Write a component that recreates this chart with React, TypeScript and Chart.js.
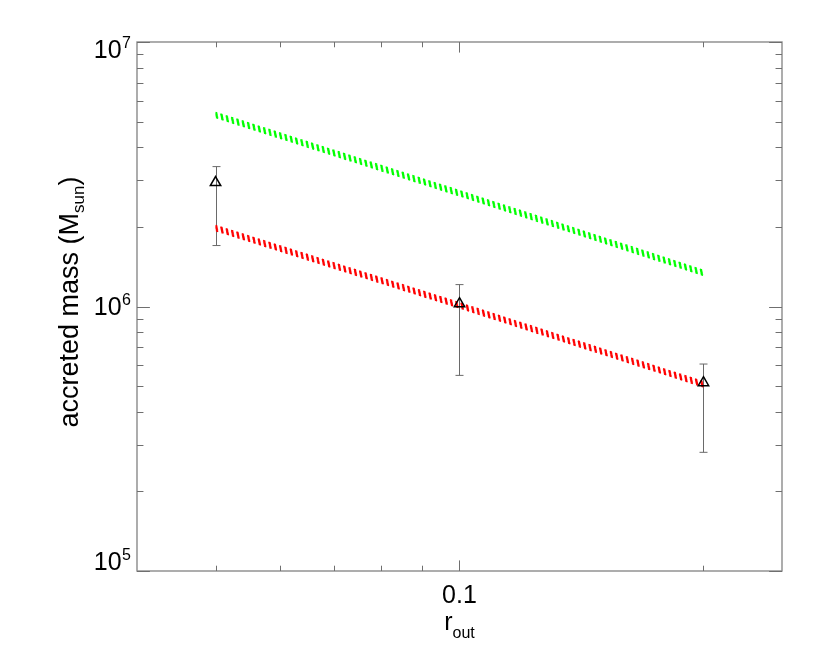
import React, { useEffect, useRef } from "react";
import { Chart, registerables } from "chart.js";

Chart.register(...registerables);

// ---- data ----
const radii = [0.05, 0.1, 0.2];
const accretedMass = [2.94e6, 1.025e6, 5.15e5];
const massErrLow = [1.7e6, 5.49e5, 2.81e5];
const massErrHigh = [3.38e6, 1.21e6, 6.06e5];
const greenModel = [5.3e6, 2.68e6, 1.34e6];
const redModel = [1.98e6, 1.01e6, 5.08e5];

// ---- ticks ----
const xMajorTicks = [0.1];
const xTickLabels = ["0.1"];
const xMinorTicks = [0.05, 0.06, 0.07, 0.08, 0.09, 0.2];
const yMajorTicks = [1e5, 1e6, 1e7];
const yTickExponents = ["5", "6", "7"];
const yMinorTicks = [
  2e5, 3e5, 4e5, 5e5, 6e5, 7e5, 8e5, 9e5,
  2e6, 3e6, 4e6, 5e6, 6e6, 7e6, 8e6, 9e6,
];

const FONT = '"Liberation Sans", Arial, Helvetica, sans-serif';
const AXIS_COLOR = "#8a8a8a";
const TICK_COLOR = "#6f6f6f";

const idlPlugin = {
  id: "idlPlugin",
  beforeDatasetsDraw(chart: any) {
    const ctx = chart.ctx;
    const xs = chart.scales.x;
    const ys = chart.scales.y;
    ctx.save();
    ctx.strokeStyle = "#6a6a6a";
    ctx.lineWidth = 1;
    for (let i = 0; i < radii.length; i++) {
      const px = Math.round(xs.getPixelForValue(radii[i])) + 0.5;
      const pTop = ys.getPixelForValue(massErrHigh[i]);
      const pBot = ys.getPixelForValue(massErrLow[i]);
      ctx.beginPath();
      ctx.moveTo(px, pTop);
      ctx.lineTo(px, pBot);
      ctx.moveTo(px - 4, pTop);
      ctx.lineTo(px + 4, pTop);
      ctx.moveTo(px - 4, pBot);
      ctx.lineTo(px + 4, pBot);
      ctx.stroke();
    }
    ctx.restore();
  },
  beforeDatasetDraw(chart: any, args: any) {
    const ds = chart.data.datasets[args.index];
    if (!ds.striped) return;
    const pts = args.meta.data;
    const ctx = chart.ctx;
    ctx.save();
    ctx.strokeStyle = ds.borderColor;
    ctx.lineWidth = 1.6;
    ctx.lineCap = "butt";
    ctx.setLineDash([2.3, 3.3]);
    for (let k = -3; k <= 2; k++) {
      const dy = k + 0.5;
      ctx.lineDashOffset = -0.22 * dy;
      ctx.beginPath();
      for (let i = 0; i < pts.length; i++) {
        const p = pts[i];
        if (i === 0) ctx.moveTo(p.x, p.y + dy);
        else ctx.lineTo(p.x, p.y + dy);
      }
      ctx.stroke();
    }
    ctx.restore();
    return false;
  },
  afterDraw(chart: any) {
    const ctx = chart.ctx;
    const xs = chart.scales.x;
    const ys = chart.scales.y;
    const a = chart.chartArea;
    const L = a.left, R = a.right, T = a.top, B = a.bottom;
    const W = R - L, H = B - T;
    const xMajLen = 0.02 * H, xMinLen = 0.01 * H;
    const yMajLen = 0.02 * W, yMinLen = 0.01 * W;

    ctx.save();
    ctx.strokeStyle = AXIS_COLOR;
    ctx.lineWidth = 1.4;
    ctx.strokeRect(L, T, W, H);

    ctx.strokeStyle = TICK_COLOR;
    ctx.lineWidth = 1;
    ctx.beginPath();
    const xTick = (v: number, len: number) => {
      const px = Math.round(xs.getPixelForValue(v)) + 0.5;
      ctx.moveTo(px, B);
      ctx.lineTo(px, B - len);
      ctx.moveTo(px, T);
      ctx.lineTo(px, T + len);
    };
    const yTick = (v: number, len: number) => {
      const py = Math.round(ys.getPixelForValue(v)) + 0.5;
      ctx.moveTo(L, py);
      ctx.lineTo(L + len, py);
      ctx.moveTo(R, py);
      ctx.lineTo(R - len, py);
    };
    xMajorTicks.forEach((v) => xTick(v, xMajLen));
    xMinorTicks.forEach((v) => xTick(v, xMinLen));
    yMajorTicks.forEach((v) => yTick(v, yMajLen));
    yMinorTicks.forEach((v) => yTick(v, yMinLen));
    ctx.stroke();

    ctx.fillStyle = "#000";
    ctx.font = `25px ${FONT}`;
    ctx.textAlign = "center";
    ctx.textBaseline = "alphabetic";
    xMajorTicks.forEach((v, i) => {
      const px = xs.getPixelForValue(v);
      ctx.fillText(xTickLabels[i], px, B + 32);
    });

    yMajorTicks.forEach((v, i) => {
      const py = ys.getPixelForValue(v);
      let base = py + 8.5;
      if (i === yMajorTicks.length - 1) base = py + 16;
      if (i === 0) base = py - 1;
      ctx.font = `16px ${FONT}`;
      const supW = ctx.measureText(yTickExponents[i]).width;
      ctx.font = `25px ${FONT}`;
      const tenW = ctx.measureText("10").width;
      const right = L - 6;
      ctx.textAlign = "left";
      ctx.fillText("10", right - supW - tenW - 0.5, base);
      ctx.font = `16px ${FONT}`;
      ctx.fillText(yTickExponents[i], right - supW, base - 10);
    });

    {
      const cx = (L + R) / 2;
      ctx.font = `25px ${FONT}`;
      const rW = ctx.measureText("r").width;
      ctx.font = `16px ${FONT}`;
      const sW = ctx.measureText("out").width;
      const x0 = cx - (rW + sW) / 2;
      ctx.textAlign = "left";
      ctx.font = `25px ${FONT}`;
      ctx.fillText("r", x0, B + 59);
      ctx.font = `16px ${FONT}`;
      ctx.fillText("out", x0 + rW, B + 67);
    }

    {
      ctx.save();
      const cy = 302;
      const bx = 78;
      ctx.translate(bx, cy);
      ctx.rotate(-Math.PI / 2);
      const main = "accreted mass (M";
      ctx.font = `27px ${FONT}`;
      const mW = ctx.measureText(main).width;
      const cW = ctx.measureText(")").width;
      ctx.font = `17px ${FONT}`;
      const sW = ctx.measureText("sun").width;
      const total = mW + sW + cW;
      let x = -total / 2;
      ctx.textAlign = "left";
      ctx.font = `27px ${FONT}`;
      ctx.fillText(main, x, 0);
      x += mW;
      ctx.font = `17px ${FONT}`;
      ctx.fillText("sun", x, 6);
      x += sW;
      ctx.font = `27px ${FONT}`;
      ctx.fillText(")", x, 0);
      ctx.restore();
    }
    ctx.restore();
  },
};

export default function App() {
  const ref = useRef<HTMLCanvasElement>(null);
  useEffect(() => {
    if (!ref.current) return;
    const chart = new Chart(ref.current, {
      type: "scatter",
      data: {
        datasets: [
          {
            label: "measured",
            data: radii.map((r, i) => ({ x: r, y: accretedMass[i] })),
            pointStyle: "triangle",
            pointRadius: 6,
            pointBorderWidth: 1.5,
            pointBorderColor: "#000",
            pointBackgroundColor: "rgba(0,0,0,0)",
            showLine: false,
          },
          {
            type: "line",
            label: "green",
            data: radii.map((r, i) => ({ x: r, y: greenModel[i] })),
            borderColor: "#00ff00",
            pointRadius: 0,
            striped: true,
          } as any,
          {
            type: "line",
            label: "red",
            data: radii.map((r, i) => ({ x: r, y: redModel[i] })),
            borderColor: "#ff0000",
            pointRadius: 0,
            striped: true,
          } as any,
        ],
      },
      options: {
        animation: false,
        responsive: false,
        devicePixelRatio: 1,
        layout: { padding: { left: 137, right: 40, top: 42, bottom: 87 } },
        plugins: { legend: { display: false }, tooltip: { enabled: false } },
        scales: {
          x: { type: "logarithmic", min: 0.04, max: 0.25, display: false },
          y: { type: "logarithmic", min: 1e5, max: 1e7, display: false },
        },
      },
      plugins: [idlPlugin],
    });
    return () => chart.destroy();
  }, []);
  return (
    <div style={{ position: "absolute", left: 0, top: 0, width: 822, height: 658, background: "#fff" }}>
      <canvas ref={ref} width={822} height={658} style={{ display: "block" }} />
    </div>
  );
}
